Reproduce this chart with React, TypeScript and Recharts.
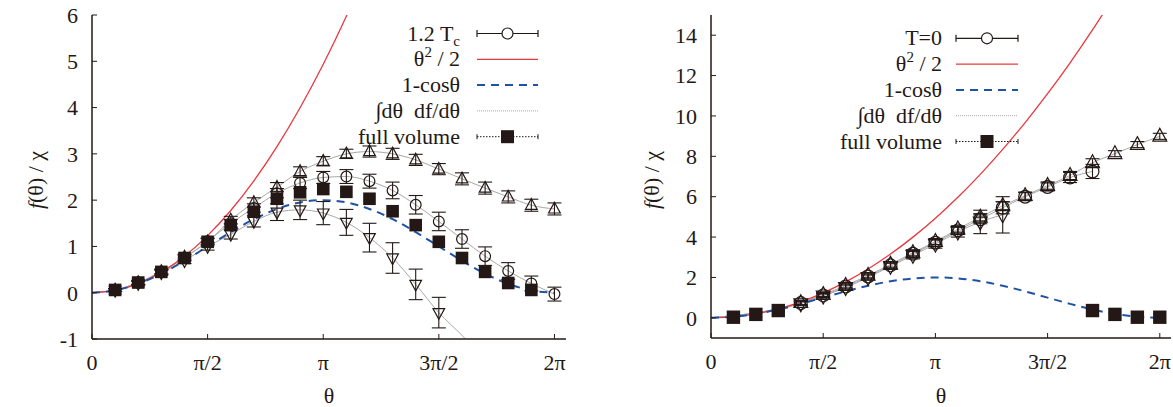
import React from 'react';
import { ComposedChart, Line, Scatter, XAxis, YAxis, ErrorBar } from 'recharts';

const INK = '#231815';
const GRAY = '#a8a8a8';
const RED = '#e8383d';
const BLUE = '#2052a3';
const FONT = "'Liberation Serif', 'Times New Roman', Times, 'DejaVu Serif', serif";
const FS = 22;

// theta = k * pi / 10, k = 0..20
const THETA = [0, 0.314, 0.628, 0.942, 1.257, 1.571, 1.885, 2.199, 2.513, 2.827, 3.142, 3.456, 3.77, 4.084, 4.398, 4.712, 5.027, 5.341, 5.655, 5.969, 6.283];
const X_TICKS = [0, 1.5708, 3.1416, 4.7124, 6.2832];
const X_TICK_LABELS = ['0', 'π/2', 'π', '3π/2', '2π'];
const LEFT_Y_TICKS = [-1, 0, 1, 2, 3, 4, 5, 6];
const RIGHT_Y_TICKS = [0, 2, 4, 6, 8, 10, 12, 14];

// reference curves, sampled on THETA
const QUAD = [0, 0.049, 0.197, 0.444, 0.79, 1.234, 1.777, 2.418, 3.158, 3.997, 4.935, 5.971, 7.106, 8.34, 9.672, 11.103, 12.633, 14.262, 15.989];
const COSINE = [0, 0.049, 0.191, 0.412, 0.691, 1.0, 1.309, 1.588, 1.809, 1.951, 2.0, 1.951, 1.809, 1.588, 1.309, 1.0, 0.691, 0.412, 0.191, 0.049, 0];

// left panel (1.2 Tc), first point at k=1
const HOT_CIRCLE = [0.06, 0.22, 0.45, 0.75, 1.11, 1.5, 1.83, 2.15, 2.37, 2.49, 2.51, 2.41, 2.21, 1.9, 1.54, 1.16, 0.79, 0.47, 0.2, -0.03];
const HOT_CIRCLE_ERR = [0.03, 0.04, 0.05, 0.06, 0.07, 0.08, 0.09, 0.1, 0.12, 0.13, 0.15, 0.15, 0.18, 0.2, 0.2, 0.2, 0.2, 0.18, 0.16, 0.15];
const HOT_UP = [0.06, 0.22, 0.46, 0.77, 1.1, 1.57, 1.95, 2.28, 2.62, 2.84, 3.0, 3.05, 3.0, 2.87, 2.67, 2.46, 2.26, 2.07, 1.89, 1.81];
const HOT_UP_ERR = [0.03, 0.04, 0.05, 0.06, 0.07, 0.08, 0.1, 0.1, 0.1, 0.1, 0.1, 0.12, 0.12, 0.12, 0.12, 0.13, 0.13, 0.13, 0.13, 0.13];
const HOT_DOWN = [0.05, 0.2, 0.43, 0.69, 1.0, 1.26, 1.54, 1.74, 1.79, 1.72, 1.52, 1.19, 0.75, 0.18, -0.43];
const HOT_DOWN_ERR = [0.03, 0.04, 0.05, 0.06, 0.08, 0.1, 0.12, 0.18, 0.21, 0.25, 0.28, 0.31, 0.33, 0.33, 0.33];
const HOT_DOWN_TAIL = [-0.92, -1.45]; // k=16,17 (line only, runs off the bottom)
const HOT_FULL = [0.06, 0.22, 0.45, 0.75, 1.1, 1.46, 1.75, 2.03, 2.17, 2.24, 2.18, 2.03, 1.76, 1.46, 1.1, 0.75, 0.45, 0.21, 0.06];

// right panel (T=0), first point at k=4
const COLD_CIRCLE = [0.73, 1.11, 1.55, 2.05, 2.6, 3.17, 3.72, 4.33, 4.88, 5.45, 6.0, 6.48, 6.95, 7.25];
const COLD_CIRCLE_ERR = [0.1, 0.1, 0.12, 0.12, 0.15, 0.15, 0.18, 0.2, 0.22, 0.3, 0.2, 0.2, 0.25, 0.35];
const COLD_UP = [0.75, 1.15, 1.6, 2.1, 2.65, 3.22, 3.78, 4.4, 4.98, 5.55, 6.05, 6.55, 7.05, 7.68, 8.13, 8.58, 8.99];
const COLD_UP_ERR = [0.1, 0.1, 0.12, 0.12, 0.14, 0.15, 0.15, 0.16, 0.18, 0.2, 0.18, 0.18, 0.2, 0.2, 0.15, 0.15, 0.15];
const COLD_DOWN = [0.7, 1.08, 1.5, 2.0, 2.55, 3.1, 3.65, 4.25, 4.75, 5.1];
const COLD_DOWN_ERR = [0.1, 0.1, 0.12, 0.12, 0.15, 0.18, 0.2, 0.25, 0.58, 0.9];
const COLD_FULL_K = [1, 2, 3, 17, 18, 19, 20];
const COLD_FULL = [0.03, 0.17, 0.36, 0.36, 0.17, 0.03, 0.03];

type Pt = { x: number; y: number; e: number };
const pts = (start: number, vals: number[], errs: number[] = []): Pt[] =>
  vals.map((y, i) => ({ x: THETA[start + i], y, e: errs[i] ?? 0 }));
const ptsAt = (ks: number[], vals: number[]): Pt[] => vals.map((y, i) => ({ x: THETA[ks[i]], y, e: 0 }));
const withOrigin = (p: Pt[]): Pt[] => [{ x: 0, y: 0, e: 0 }, ...p];

const circleMark = (r: number) => (p: any) => <circle cx={p.cx} cy={p.cy} r={r} fill="none" stroke={INK} strokeWidth={1.2} />;
const upMark = (s: number) => (p: any) => (
  <path d={`M${p.cx},${p.cy - 1.15 * s}L${p.cx + s},${p.cy + 0.7 * s}L${p.cx - s},${p.cy + 0.7 * s}Z`} fill="none" stroke={INK} strokeWidth={1.2} />
);
const downMark = (s: number) => (p: any) => (
  <path d={`M${p.cx},${p.cy + 1.15 * s}L${p.cx + s},${p.cy - 0.7 * s}L${p.cx - s},${p.cy - 0.7 * s}Z`} fill="none" stroke={INK} strokeWidth={1.2} />
);
const squareMark = (h: number) => (p: any) => <rect x={p.cx - h} y={p.cy - h} width={2 * h} height={2 * h} fill={INK} />;

const axisLine = { stroke: INK, strokeWidth: 1.5 };
const tickStyle = { fill: INK, fontSize: FS, fontFamily: FONT };

interface PanelProps {
  left: number;
  width: number;
  axisW: number;
  xAxisH: number;
  right: number;
  yDomain: [number, number];
  yTicks: number[];
  quad: Pt[];
  grays: Pt[][];
  up: Pt[];
  circle: Pt[];
  down: Pt[];
  full: Pt[];
  mark: number;
  sq: number;
}

const Panel: React.FC<PanelProps> = ({ left, width, axisW, xAxisH, right, yDomain, yTicks, quad, grays, up, circle, down, full, mark, sq }) => (
  <div style={{ position: 'absolute', left, top: 0 }}>
    <ComposedChart width={width} height={407} margin={{ top: 15, right, bottom: 0, left: 0 }} style={{ fontFamily: FONT }}>
      <XAxis
        xAxisId={0}
        type="number"
        dataKey="x"
        domain={[0, 6.44]}
        allowDataOverflow
        ticks={X_TICKS}
        interval={0}
        tickFormatter={(v: number) => X_TICK_LABELS[X_TICKS.indexOf(v)]}
        height={xAxisH}
        tick={tickStyle}
        tickSize={-5}
        tickMargin={20}
        axisLine={axisLine}
        tickLine={{ stroke: INK }}
        label={{ value: 'θ', position: 'insideBottom', offset: 4, fill: INK, fontSize: FS, fontFamily: FONT }}
      />
      <XAxis xAxisId="top" orientation="top" type="number" dataKey="x" domain={[0, 6.44]} ticks={X_TICKS} height={0} tick={false} tickSize={-5} axisLine={axisLine} tickLine={{ stroke: INK }} />
      <YAxis
        yAxisId={0}
        type="number"
        domain={yDomain}
        allowDataOverflow
        ticks={yTicks}
        interval={0}
        width={axisW}
        tick={tickStyle}
        tickSize={-5}
        tickMargin={19}
        axisLine={axisLine}
        tickLine={{ stroke: INK }}
      />
      <YAxis yAxisId="r" orientation="right" type="number" domain={yDomain} ticks={yTicks} width={0} tick={false} tickSize={-5} axisLine={axisLine} tickLine={{ stroke: INK }} />

      {grays.map((g, i) => (
        <Line key={`g${i}`} data={g} dataKey="y" type="monotone" stroke={GRAY} strokeWidth={1} dot={false} isAnimationActive={false} />
      ))}
      <Line data={quad} dataKey="y" type="monotone" stroke={RED} strokeWidth={1.3} dot={false} isAnimationActive={false} />
      <Line data={pts(0, COSINE)} dataKey="y" type="monotone" stroke={BLUE} strokeWidth={2} strokeDasharray="8 6" dot={false} isAnimationActive={false} />

      <Scatter data={up} dataKey="y" shape={upMark(mark * 1.08)} isAnimationActive={false}>
        <ErrorBar dataKey="e" direction="y" width={7} stroke={INK} strokeWidth={1.1} />
      </Scatter>
      <Scatter data={circle} dataKey="y" shape={circleMark(mark)} isAnimationActive={false}>
        <ErrorBar dataKey="e" direction="y" width={7} stroke={INK} strokeWidth={1.1} />
      </Scatter>
      <Scatter data={down} dataKey="y" shape={downMark(mark * 1.08)} isAnimationActive={false}>
        <ErrorBar dataKey="e" direction="y" width={7} stroke={INK} strokeWidth={1.1} />
      </Scatter>
      <Scatter data={full} dataKey="y" shape={squareMark(sq)} isAnimationActive={false} />
    </ComposedChart>
  </div>
);

const LegendBox: React.FC<{ textRight: number; x0: number; x1: number; top: number; first: string; sub?: string }> = ({ textRight, x0, x1, top, first, sub }) => {
  const rows = [0, 1, 2, 3, 4].map((i) => top + i * 25.8);
  const mid = (x0 + x1) / 2;
  const txt = { fill: INK, fontSize: FS, fontFamily: FONT, textAnchor: 'end' as const };
  return (
    <g>
      <text x={textRight} y={rows[0] + 7} {...txt}>
        {first}
        {sub && (
          <tspan dy={5} fontSize={15}>
            {sub}
          </tspan>
        )}
      </text>
      <line x1={x0} x2={x1} y1={rows[0]} y2={rows[0]} stroke={INK} strokeWidth={1.2} />
      <line x1={x0} x2={x0} y1={rows[0] - 3.5} y2={rows[0] + 3.5} stroke={INK} strokeWidth={1.2} />
      <line x1={x1} x2={x1} y1={rows[0] - 3.5} y2={rows[0] + 3.5} stroke={INK} strokeWidth={1.2} />
      <circle cx={mid} cy={rows[0]} r={5.5} fill="#fff" stroke={INK} strokeWidth={1.2} />

      <text x={textRight} y={rows[1] + 7} {...txt}>
        θ<tspan dy={-9} fontSize={15}>2</tspan>
        <tspan dy={9}>{'\u00a0/\u00a02'}</tspan>
      </text>
      <line x1={x0} x2={x1} y1={rows[1]} y2={rows[1]} stroke={RED} strokeWidth={1.3} />

      <text x={textRight} y={rows[2] + 7} {...txt}>
        1-cosθ
      </text>
      <line x1={x0} x2={x1} y1={rows[2]} y2={rows[2]} stroke={BLUE} strokeWidth={2} strokeDasharray="8 6" />

      <text x={textRight} y={rows[3] + 7} {...txt}>
        {'∫dθ\u00a0\u00a0df/dθ'}
      </text>
      <line x1={x0} x2={x1} y1={rows[3]} y2={rows[3]} stroke={GRAY} strokeWidth={1} strokeDasharray="1 1" />

      <text x={textRight} y={rows[4] + 7} {...txt}>
        full volume
      </text>
      <line x1={x0} x2={x1} y1={rows[4]} y2={rows[4]} stroke={INK} strokeWidth={1} strokeDasharray="1.5 1.5" />
      <line x1={x0} x2={x0} y1={rows[4] - 2.5} y2={rows[4] + 2.5} stroke={INK} strokeWidth={1} />
      <line x1={x1} x2={x1} y1={rows[4] - 2.5} y2={rows[4] + 2.5} stroke={INK} strokeWidth={1} />
      <rect x={mid - 6.5} y={rows[4] - 6.5} width={13} height={13} fill={INK} />
    </g>
  );
};

const YTitle: React.FC<{ x: number; y: number }> = ({ x, y }) => (
  <text x={x} y={y} transform={`rotate(-90 ${x} ${y})`} textAnchor="middle" dominantBaseline="central" fill={INK} fontSize={FS} fontFamily={FONT}>
    <tspan fontStyle="italic">f</tspan>
    {'(θ)\u00a0/\u00a0χ'}
  </text>
);

export default function App() {
  return (
    <div style={{ position: 'absolute', left: 0, top: 0, width: 1173, height: 407, background: '#fff', fontFamily: FONT }}>
      <Panel
        left={0}
        width={580}
        axisW={92}
        xAxisH={68}
        right={14}
        yDomain={[-1, 6]}
        yTicks={LEFT_Y_TICKS}
        quad={pts(0, QUAD.slice(0, 13))}
        grays={[
          withOrigin(pts(1, HOT_UP)),
          withOrigin(pts(1, HOT_CIRCLE)),
          withOrigin([...pts(1, HOT_DOWN), ...pts(16, HOT_DOWN_TAIL)]),
        ]}
        up={pts(1, HOT_UP, HOT_UP_ERR)}
        circle={pts(1, HOT_CIRCLE, HOT_CIRCLE_ERR)}
        down={pts(1, HOT_DOWN, HOT_DOWN_ERR)}
        full={pts(1, HOT_FULL)}
        mark={5.4}
        sq={6.3}
      />
      <Panel
        left={590}
        width={583}
        axisW={121}
        xAxisH={69}
        right={2}
        yDomain={[-1, 15]}
        yTicks={RIGHT_Y_TICKS}
        quad={pts(0, QUAD)}
        grays={[withOrigin(pts(4, COLD_UP)), withOrigin(pts(4, COLD_CIRCLE)), withOrigin(pts(4, COLD_DOWN))]}
        up={pts(4, COLD_UP, COLD_UP_ERR)}
        circle={pts(4, COLD_CIRCLE, COLD_CIRCLE_ERR)}
        down={pts(4, COLD_DOWN, COLD_DOWN_ERR)}
        full={ptsAt(COLD_FULL_K, COLD_FULL)}
        mark={6.4}
        sq={6.7}
      />
      <svg width={1173} height={407} style={{ position: 'absolute', left: 0, top: 0, pointerEvents: 'none' }}>
        <YTitle x={35} y={180} />
        <YTitle x={651} y={180} />
        <LegendBox textRight={460} x0={477} x1={538} top={33.5} first={'1.2 T'} sub="c" />
        <LegendBox textRight={942} x0={956} x1={1018} top={38.3} first="T=0" />
      </svg>
    </div>
  );
}
